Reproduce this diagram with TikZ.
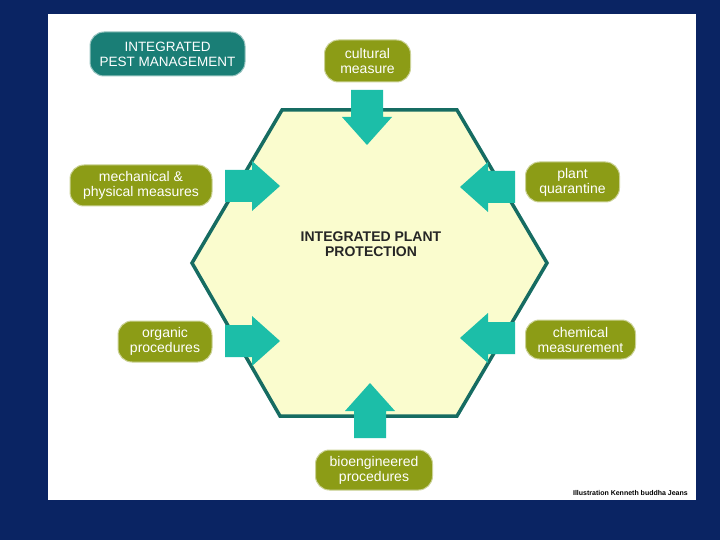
\documentclass[tikz,border=0pt]{standalone}
\usepackage{fontspec}
\setmainfont{Liberation Sans}
\usetikzlibrary{positioning}

\definecolor{navy}{RGB}{10,36,99}
\definecolor{hexfill}{RGB}{250,252,206}
\definecolor{hexline}{RGB}{22,108,98}
\definecolor{olive}{RGB}{140,156,22}
\definecolor{feederteal}{RGB}{28,190,168}
\definecolor{ipmteal}{RGB}{26,126,118}

\begin{document}
\begin{tikzpicture}[x=1pt,y=-1pt]
		\tikzstyle{measure}=[rounded corners=14pt,fill=olive,draw=olive!45,line width=1pt,text=white,align=center,inner sep=0pt,font=\fontsize{14}{15}\selectfont]
		\tikzstyle{ipmbox}=[measure,fill=ipmteal,draw=ipmteal!45,font=\fontsize{13.5}{15}\selectfont]
		\tikzstyle{hexagon}=[fill=hexfill,draw=hexline,line width=3.5pt,line join=miter]
		\tikzset{pics/feeder/.style={code={
			\fill[feederteal] (0,-16) -- (27,-16) -- (27,-25) -- (55,0) -- (27,25) -- (27,16) -- (0,16) -- cycle;}}}
		
		% Fond et cadre
		\fill[navy] (0,0) rectangle (720,540);
		\fill[white] (48,14) rectangle (696,500);
		\useasboundingbox (0,0) rectangle (720,540);
		
		% Hexagone
		\coordinate (hexNW) at (282,110);
		\coordinate (hexNE) at (457,110);
		\coordinate (hexE) at (547,263);
		\coordinate (hexSE) at (457,416);
		\coordinate (hexSW) at (280,416);
		\coordinate (hexW) at (192,263);
		\draw [hexagon] (hexNW) -- (hexNE) -- (hexE) -- (hexSE) -- (hexSW) -- (hexW) -- cycle;
		\node[font=\bfseries\fontsize{14}{15}\selectfont,text=black!85,align=center] (ipp) at (371,244) {INTEGRATED PLANT\\PROTECTION};
		
		% Fleches
		\pic[rotate=-90] at (367,90) {feeder};
		\pic at (225,186) {feeder};
		\pic[rotate=180] at (515,187) {feeder};
		\pic at (225,341) {feeder};
		\pic[rotate=180] at (515,338) {feeder};
		\pic[rotate=90] at (370,438) {feeder};
		
		% Mesures
		\node[ipmbox,minimum width=155pt,minimum height=44pt] (ipm) at (167.5,54) {INTEGRATED\\PEST MANAGEMENT};
		\node[measure,minimum width=86pt,minimum height=42pt] (cultural) at (367.5,61) {cultural\\measure};
		\node[measure,minimum width=142pt,minimum height=41pt] (mechanical) at (141,185.5) {mechanical \&\\physical measures};
		\node[measure,minimum width=94pt,minimum height=40pt] (quarantine) at (572.5,182) {plant\\quarantine};
		\node[measure,minimum width=94pt,minimum height=41pt] (organic) at (165,341.5) {organic\\procedures};
		\node[measure,minimum width=110pt,minimum height=39pt] (chemical) at (580.5,339.5) {chemical\\measurement};
		\node[measure,minimum width=117pt,minimum height=40pt] (bioeng) at (374,470) {bioengineered\\procedures};
		
		\node[anchor=east,font=\bfseries\fontsize{7}{8}\selectfont,inner sep=0pt] (credit) at (688,493) {Illustration Kenneth buddha Jeans};
\end{tikzpicture}
\end{document}
